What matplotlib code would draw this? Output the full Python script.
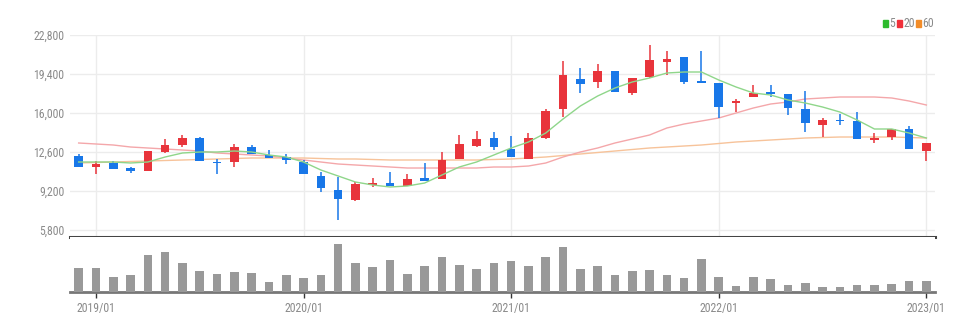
import matplotlib.pyplot as plt
import numpy as np

# monthly candles 2018/12 .. 2023/01
months = ["2018/12"] + [f"{y}/{m:02d}" for y in range(2019, 2023) for m in range(1, 13)] + ["2023/01"]

opens  = [12251, 11292, 11641, 11205, 10943, 12600, 13210, 13820, 11728, 11728,
          13036, 12338, 12164, 11728, 10508, 9287, 8415, 9723, 9897, 9636,
          10310, 10246, 11990, 13123, 13820, 12861, 11990, 13820, 16348, 18964,
          18703, 19662, 17744, 19139, 20446, 20882, 18790, 18615, 16872, 17395,
          17831, 17657, 16348, 14954, 15390, 15303, 13646, 13907, 14605, 12687]
highs  = [12425, 11815, 11815, 11292, 12687, 13733, 14082, 13907, 11990, 13297,
          13210, 12774, 12425, 11902, 10856, 10420, 9984, 10333, 10856, 10682,
          11670, 12600, 14082, 14431, 14344, 13995, 14257, 16348, 20533, 19923,
          20272, 19662, 19051, 21928, 21405, 20882, 21405, 18615, 17220, 18441,
          18441, 17657, 17918, 15564, 15913, 16087, 14257, 14605, 14867, 13385]
lows   = [11292, 10682, 11118, 10769, 10943, 12513, 13036, 11815, 10682, 11292,
          12425, 12077, 11554, 10682, 9113, 6672, 8328, 9549, 9636, 9636,
          10100, 10246, 11990, 13036, 12774, 12164, 11990, 13733, 15651, 17744,
          18180, 17831, 17570, 19051, 19313, 18528, 18615, 15564, 16087, 17395,
          17395, 15826, 14344, 13907, 14954, 13733, 13385, 13646, 12861, 11815]
closes = [11292, 11554, 11118, 10943, 12687, 13210, 13820, 11815, 11641, 13036,
          12425, 12077, 11902, 10682, 9461, 8502, 9810, 9897, 9636, 10246,
          10100, 11902, 13297, 13733, 13036, 12164, 13820, 16174, 19313, 18528,
          19662, 17831, 19051, 20621, 20708, 18703, 18615, 16523, 17046, 17744,
          17657, 16436, 15128, 15390, 15303, 13733, 13820, 14605, 12861, 13385]
volumes = [243, 243, 147, 170, 373, 400, 290, 207, 183, 197,
           190, 100, 170, 137, 170, 483, 290, 250, 317, 180,
           260, 347, 270, 233, 287, 307, 257, 347, 450, 233,
           263, 167, 213, 220, 173, 137, 330, 150, 63, 150,
           127, 70, 93, 53, 47, 70, 70, 83, 113, 107]

ma5 = [11728, 11728, 11728, 11641, 11728, 12164, 12513, 12600, 12600, 12687,
       12600, 12338, 12164, 11728, 11031, 10508, 9984, 9723, 9549, 9636,
       9897, 10595, 11292, 11728, 12338, 12949, 13472, 14256, 15477, 16610,
       17482, 18179, 18703, 19051, 19487, 19574, 19574, 18877, 18267, 17744,
       17569, 17133, 16872, 16523, 16087, 15390, 14605, 14605, 14256, 13820]
ma20 = [13385, 13298, 13210, 13036, 12949, 12861, 12774, 12687, 12513, 12426,
        12338, 12251, 12077, 11902, 11728, 11554, 11467, 11379, 11292, 11205,
        11205, 11205, 11205, 11205, 11292, 11292, 11379, 11641, 12164, 12600,
        12949, 13385, 13733, 14082, 14692, 15041, 15303, 15564, 16000, 16436,
        16785, 16959, 17220, 17308, 17395, 17395, 17395, 17308, 17046, 16697]
ma60 = [11641, 11684, 11728, 11772, 11815, 11859, 11902, 11946, 11990, 12033,
        12077, 12077, 12077, 12077, 12033, 11990, 11990, 11946, 11902, 11902,
        11902, 11902, 11902, 11902, 11946, 11990, 12077, 12164, 12295, 12426,
        12556, 12687, 12818, 12949, 13036, 13123, 13210, 13341, 13472, 13559,
        13646, 13733, 13820, 13864, 13907, 13907, 13907, 13907, 13864, 13820]

yticks = [5800, 9200, 12600, 16000, 19400, 22800]
tick_idx = [1, 13, 25, 37, 49]

up_col = "#e8343b"
dn_col = "#1877e8"
grid_col = "#ececec"
text_col = "#8a8a8a"
font = ["Roboto Condensed", "DejaVu Sans"]

fig = plt.figure(figsize=(9.77, 3.29), dpi=100)
W, H = 977, 329
ax = fig.add_axes([70 / W, 1 - 237 / H, 865 / W, 202 / H])
axv = fig.add_axes([70 / W, 1 - 292 / H, 865 / W, 55 / H], sharex=ax)

x = np.arange(len(months))
o = np.array(opens); c = np.array(closes)
cols = [up_col if cc >= oo else dn_col for oo, cc in zip(o, c)]

ax.vlines(x, lows, highs, colors=cols, linewidth=1.1, zorder=3)
bottom = np.minimum(o, c)
height = np.maximum(np.abs(c - o), 60)
ax.bar(x, height, bottom=bottom, width=0.5, color=cols, zorder=4)

ax.plot(x, ma60, color="#f7c39a", linewidth=1.0, zorder=2)
ax.plot(x, ma20, color="#f4a7aa", linewidth=1.0, zorder=2)
ax.plot(x, ma5, color="#8fd68a", linewidth=1.0, zorder=5)

ax.set_xlim(-0.5, 49.5)
ax.set_ylim(5190, 22800)
ax.set_yticks(yticks)
ax.set_yticklabels([f"{v:,}" for v in yticks], fontsize=8.5, color=text_col, family=font)
ax.tick_params(axis="y", length=0, pad=4)
ax.tick_params(axis="x", length=0, labelbottom=False)
ax.set_xticks(tick_idx)
ax.grid(True, color=grid_col, linewidth=1)
for s in ["top", "right", "left"]:
    ax.spines[s].set_visible(False)
ax.spines["bottom"].set_color("#444444")
ax.spines["bottom"].set_linewidth(2.2)
ax.set_axisbelow(True)

axv.bar(x, volumes, width=0.5, color="#999999", zorder=3)
axv.set_ylim(0, 550)
axv.set_yticks([])
for s in ["top", "right", "left"]:
    axv.spines[s].set_visible(False)
axv.spines["bottom"].set_color("#777777")
axv.spines["bottom"].set_linewidth(2)
axv.set_xticks(tick_idx)
axv.set_xticklabels([months[i] for i in tick_idx], fontsize=8.5, color=text_col, family=font)
axv.tick_params(axis="x", length=4, width=1, color="#333333", pad=3)

# legend
leg = [("5", "#2dbb2d"), ("20", "#f0303a"), ("60", "#f28c28")]
lx = 883
for lab, col in leg:
    fig.patches.append(plt.Rectangle((lx / W, 1 - 27 / H), 5 / W, 7 / H, color=col,
                                     transform=fig.transFigure, figure=fig))
    fig.text((lx + 6) / W, 1 - 23.5 / H, lab, fontsize=8.5, color=text_col,
             va="center", ha="left", family=font)
    lx += 6 + (5 if len(lab) == 1 else 10) + 3

fig.savefig("out.png", dpi=100, facecolor="white")
